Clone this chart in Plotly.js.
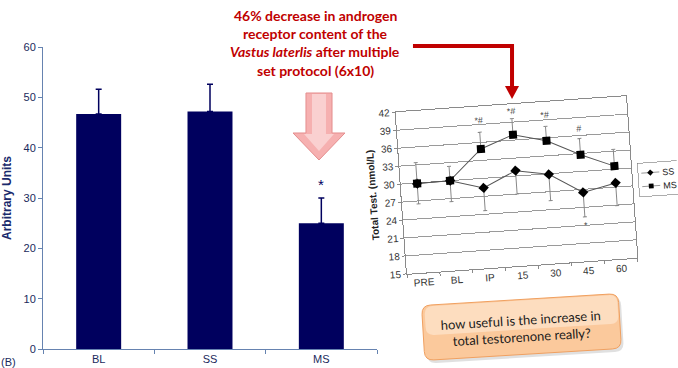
<!DOCTYPE html>
<html><head><meta charset="utf-8">
<script src="https://cdn.plot.ly/plotly-3.0.1.min.js"></script>
<style>
html,body{margin:0;padding:0;overflow:hidden;background:#fff;}
#wrap{position:relative;width:678px;height:368px;overflow:hidden;}
#main{position:absolute;left:0;top:0;width:678px;height:368px;}
#inset{position:absolute;left:340px;top:70px;width:338px;height:240px;transform:rotate(-4deg);transform-origin:176.7px 115px;}
</style></head><body>
<div id="wrap"><div id="main"></div><div id="inset"></div></div>
<script>
// ---- main bar chart data (androgen receptor content) ----
const mainCats = ['BL', 'SS', 'MS'];
const mainVals = [46.7, 47.2, 25.0];
const mainErr  = [4.9, 5.4, 5.0];
const mainSigCat = ['MS'];
const mainSigY = [32.6];

// ---- inset line chart data (total testosterone, nmol/L) ----
const timeLabels = ['PRE', 'BL', 'IP', '15', '30', '45', '60'];
const ssVals    = [29.9, 30.0, 28.4, 30.9, 29.9, 26.5, 27.7];
const ssErrDown = [3.4, 3.5, 3.8, 3.9, 4.4, 4.1, 3.8];
const msVals    = [29.9, 30.0, 34.9, 36.9, 35.5, 32.8, 30.5];
const msErrUp   = [3.5, 2.4, 2.8, 2.7, 2.4, 2.7, 2.8];
const sigCats   = ['IP', '15', '30', '45', '45'];
const sigTexts  = ['*#', '*#', '*#', '#', '*'];
const sigY      = [39.7, 40.8, 39.9, 37.1, 21.0];

const W = 678, H = 368;
const px = x => x / W, py = y => 1 - y / H;
const P = (x, y) => px(x).toFixed(4) + ',' + py(y).toFixed(4);
function poly(pts) { return 'M' + pts.map(p => P(p[0], p[1])).join(' L') + ' Z'; }
function rotRoundRect(cx, cy, w, h, r, deg) {
  const a = deg * Math.PI / 180, c = Math.cos(a), s = Math.sin(a);
  const R = (x, y) => { const dx = x - cx, dy = y - cy; return P(cx + dx * c + dy * s, cy - dx * s + dy * c); };
  const x0 = cx - w / 2, x1 = cx + w / 2, y0 = cy - h / 2, y1 = cy + h / 2;
  return `M${R(x0 + r, y0)} L${R(x1 - r, y0)} Q${R(x1, y0)} ${R(x1, y0 + r)} L${R(x1, y1 - r)} Q${R(x1, y1)} ${R(x1 - r, y1)} L${R(x0 + r, y1)} Q${R(x0, y1)} ${R(x0, y1 - r)} L${R(x0, y0 + r)} Q${R(x0, y0)} ${R(x0 + r, y0)} Z`;
}

const navy = '#00005e', axisBlue = '#6683b0', labelNavy = '#1a2a5c';
const FONT = 'Liberation Sans, Arial, sans-serif';

const mainTraces = [{
  type: 'bar', x: mainCats, y: mainVals,
  marker: {color: navy},
  error_y: {type: 'data', array: mainErr, arrayminus: mainErr.map(() => 0), symmetric: false,
            color: navy, thickness: 1.5, width: 3},
  hoverinfo: 'skip'
}];

const redLines = ['46% decrease in androgen', 'receptor content of the',
                  '<i>Vastus laterlis</i> after multiple', 'set protocol (6x10)'];
const redY = [15, 33, 52, 70];

const mainAnn = [];
mainSigCat.forEach((c, i) => mainAnn.push({x: c, y: mainSigY[i], xref: 'x', yref: 'y', text: '*',
  showarrow: false, xanchor: 'center', yanchor: 'middle', font: {family: FONT, size: 15, color: navy}}));
mainAnn.push({x: px(8), y: py(362), xref: 'paper', yref: 'paper', text: '(B)', showarrow: false,
  xanchor: 'center', yanchor: 'middle', font: {family: FONT, size: 11, color: labelNavy}});
redLines.forEach((t, i) => mainAnn.push({x: px(315), y: py(redY[i]), xref: 'paper', yref: 'paper',
  xanchor: 'center', yanchor: 'middle',
  text: t, showarrow: false, font: {family: 'Lato, sans-serif', size: 14, weight: 'bold', color: '#c00000'}}));
mainAnn.push({x: px(521), y: py(328), xref: 'paper', yref: 'paper', textangle: -3.5,
  xanchor: 'center', yanchor: 'middle',
  text: 'how useful is the increase in<br>total testorenone really?', showarrow: false,
  font: {family: 'Lato, sans-serif', size: 13, color: '#1a1a1a'}});

const mainShapes = [
  // pink block arrow
  {type: 'path', xref: 'paper', yref: 'paper',
   path: poly([[306, 93], [332, 93], [332, 133], [345, 133], [319, 160], [293, 133], [306, 133]]),
   fillcolor: '#f6b0b0', line: {color: '#e58e8e', width: 1}},
  {type: 'path', xref: 'paper', yref: 'paper',
   path: poly([[312, 94], [326, 94], [326, 134], [334, 134], [319, 151], [304, 134], [312, 134]]),
   fillcolor: '#fad0d0', line: {width: 0}},
  // red connector arrow
  {type: 'path', xref: 'paper', yref: 'paper',
   path: 'M' + P(413, 46) + ' L' + P(512, 46) + ' L' + P(512, 88),
   line: {color: '#c00000', width: 4}},
  {type: 'path', xref: 'paper', yref: 'paper',
   path: poly([[505, 86], [519, 86], [512, 99]]), fillcolor: '#c00000', line: {width: 0}},
  // callout box shadow + box
  {type: 'path', xref: 'paper', yref: 'paper', path: rotRoundRect(524, 330, 197, 55, 9, 3.5),
   fillcolor: 'rgba(0,0,0,0.12)', line: {width: 0}},
  {type: 'path', xref: 'paper', yref: 'paper', path: rotRoundRect(521.5, 327, 197, 55, 9, 3.5),
   fillcolor: '#fbc99c', line: {color: '#f0a060', width: 1}},
  {type: 'path', xref: 'paper', yref: 'paper', path: rotRoundRect(521.5, 315, 193, 29, 8, 3.5),
   fillcolor: 'rgba(255,236,220,0.55)', line: {width: 0}}
];

const mainLayout = {
  width: W, height: H, margin: {l: 0, r: 0, t: 0, b: 0}, autosize: false,
  paper_bgcolor: '#fff', plot_bgcolor: 'rgba(0,0,0,0)', showlegend: false,
  bargap: 0.596,
  xaxis: {domain: [px(43), px(377)], type: 'category', range: [-0.5, 2.5],
    showline: true, linecolor: axisBlue, linewidth: 1, ticks: 'outside', tickson: 'boundaries',
    ticklen: 4, tickcolor: axisBlue, showgrid: false, zeroline: false,
    tickfont: {family: FONT, size: 11, color: labelNavy}},
  yaxis: {domain: [py(349), py(47)], range: [0, 60], dtick: 10,
    showline: true, linecolor: axisBlue, linewidth: 1, ticks: 'outside', ticklen: 4, tickcolor: axisBlue,
    showgrid: false, zeroline: false, tickfont: {family: FONT, size: 11, color: labelNavy},
    title: {text: 'Arbitrary Units', standoff: 10, font: {family: FONT, size: 12, weight: 'bold', color: '#1a2a6c'}}},
  annotations: mainAnn, shapes: mainShapes
};

Plotly.newPlot('main', mainTraces, mainLayout, {staticPlot: true, displayModeBar: false});

// ---- inset ----
const insetTraces = [
  {type: 'scatter', mode: 'lines+markers', name: 'SS', x: timeLabels, y: ssVals,
   line: {color: '#555', width: 1}, marker: {symbol: 'diamond', size: 8, color: '#000'},
   error_y: {type: 'data', array: ssVals.map(() => 0), arrayminus: ssErrDown, symmetric: false,
             color: '#888', thickness: 1, width: 2}},
  {type: 'scatter', mode: 'lines+markers', name: 'MS', x: timeLabels, y: msVals,
   line: {color: '#555', width: 1}, marker: {symbol: 'square', size: 8, color: '#000'},
   error_y: {type: 'data', array: msErrUp, arrayminus: msVals.map(() => 0), symmetric: false,
             color: '#888', thickness: 1, width: 2}}
];
const insetAnn = sigCats.map((c, i) => ({x: timeLabels.indexOf(c), y: sigY[i], xref: 'x', yref: 'y',
  text: sigTexts[i], showarrow: false, xanchor: 'center', yanchor: 'middle',
  font: {family: FONT, size: 9, color: '#444'}}));
const insetLayout = {
  width: 338, height: 240, autosize: false,
  margin: {l: 61, r: 46, t: 34, b: 44, autoexpand: false},
  paper_bgcolor: 'rgba(0,0,0,0)', plot_bgcolor: 'rgba(0,0,0,0)',
  showlegend: true,
  legend: {x: 1.027, y: 0.583, xanchor: 'left', yanchor: 'top', bgcolor: '#fff',
    bordercolor: '#777', borderwidth: 1, font: {family: FONT, size: 15, color: '#222'},
    tracegroupgap: 0, itemwidth: 30},
  xaxis: {type: 'category', range: [-0.5, 6.5], showline: true, mirror: true, linecolor: '#8a8a8a',
    ticks: 'outside', tickson: 'boundaries', ticklen: 3, tickcolor: '#8a8a8a', showgrid: false,
    zeroline: false, tickfont: {family: FONT, size: 10, color: '#333'}},
  yaxis: {range: [15, 42], dtick: 3, showgrid: true, gridcolor: '#9a9a9a', gridwidth: 1,
    showline: true, mirror: true, linecolor: '#8a8a8a', ticks: 'outside', ticklen: 3, tickcolor: '#8a8a8a',
    zeroline: false, tickfont: {family: FONT, size: 10, color: '#333'},
    title: {text: 'Total Test. (nmol/L)', standoff: 5, font: {family: FONT, size: 10, weight: 'bold', color: '#222'}}},
  annotations: insetAnn
};
function shrinkLegend(gd) {
  const lg = gd.querySelector('.legend');
  if (!lg) return;
  const t = (lg.getAttribute('transform') || '').replace(/\s*scale\([^)]*\)/, '');
  lg.setAttribute('transform', t + ' scale(0.6)');
}
Plotly.newPlot('inset', insetTraces, insetLayout, {staticPlot: true, displayModeBar: false})
  .then(gd => { shrinkLegend(gd); gd.on && gd.on('plotly_afterplot', () => shrinkLegend(gd)); });
</script>
</body></html>
